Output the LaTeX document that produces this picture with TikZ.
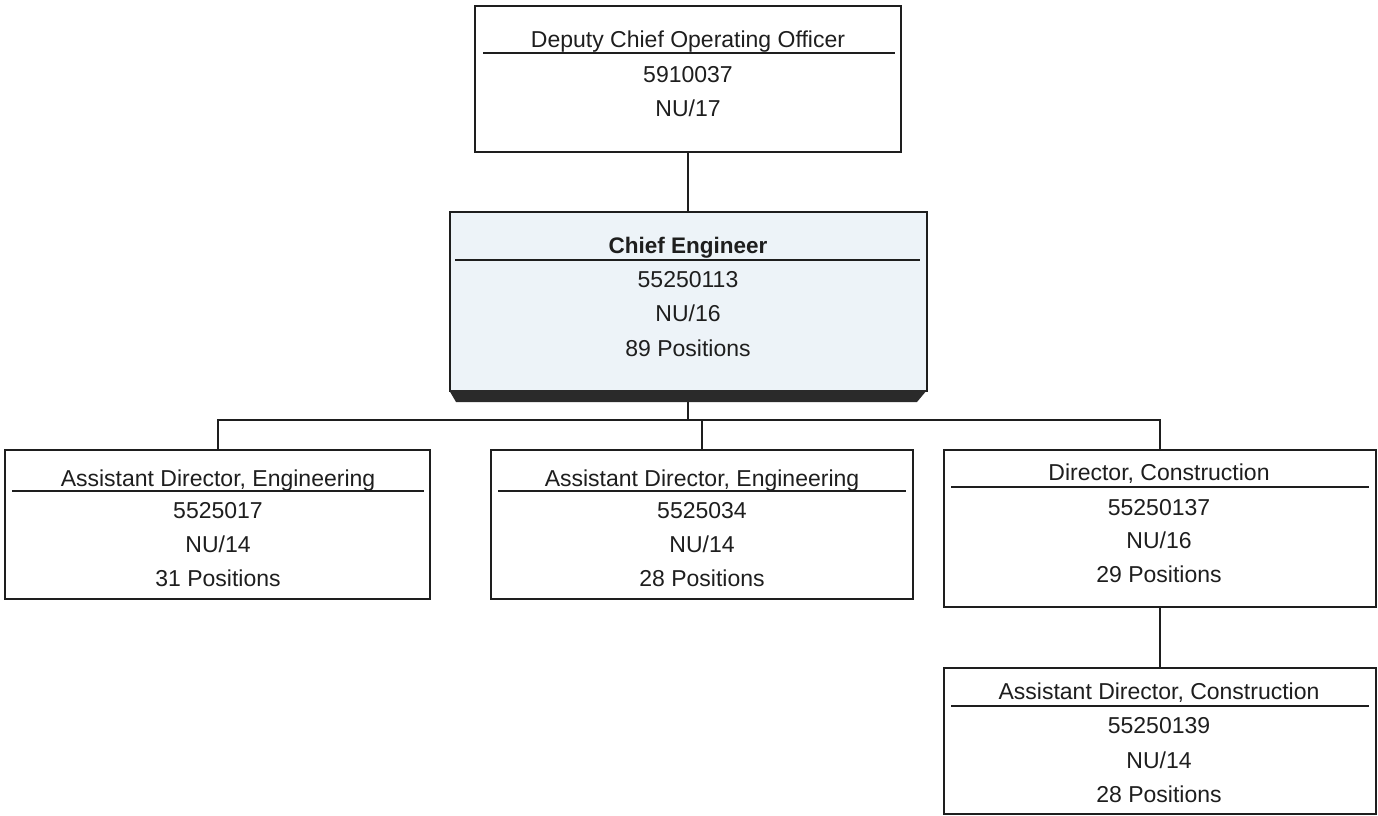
\documentclass[tikz,border=0pt]{standalone}
\usepackage{fontspec}
\setmainfont{Liberation Sans}
\usetikzlibrary{calc}
\definecolor{ink}{HTML}{1E1E1E}
\definecolor{cefill}{HTML}{EDF3F8}
\definecolor{basecol}{HTML}{2A2A2A}
\tikzset{
  box/.style={draw=ink, line width=2pt, fill=white, rectangle, inner sep=0pt},
  divider/.style={draw=ink, line width=2pt},
  link/.style={draw=ink, line width=2pt},
  label/.style={anchor=base, inner sep=0pt, text=ink, font=\fontsize{23}{27}\selectfont},
  boldlabel/.style={label, font=\fontsize{22.5}{27}\selectfont\bfseries},
}
\begin{document}
\begin{tikzpicture}[x=1pt, y=-1pt]
\useasboundingbox (0,0) rectangle (1378,816);

% position boxes
\node[box, minimum width=426pt, minimum height=146pt] (dcoo) at (688,79) {};
\node[box, fill=cefill, minimum width=477pt, minimum height=179pt] (ce) at (688,301.5) {};
\node[box, minimum width=425pt, minimum height=149pt] (ade1) at (217.5,524.5) {};
\node[box, minimum width=422pt, minimum height=149pt] (ade2) at (702,524.5) {};
\node[box, minimum width=432pt, minimum height=157pt] (dc) at (1160,528.5) {};
\node[box, minimum width=432pt, minimum height=146pt] (adc) at (1160,741) {};

% reporting lines
\coordinate (bus) at (688,420);
\draw[link] (dcoo.south) -- (ce.north);
\draw[link] (ce.south) -- (bus);
\draw[link] (bus) -| (ade1.north);
\draw[link] (bus) -| (ade2.north);
\draw[link] (bus) -| (dc.north);
\draw[link] (dc.south) -- (adc.north);

% raised base under the Chief Engineer box
\fill[basecol] (449,390) -- (927,390) -- (917,402) -- (456,402) -- cycle;

% title dividers
\draw[divider] (483,53) -- (895,53);
\draw[divider] (455,260) -- (920,260);
\draw[divider] (12,491) -- (424,491);
\draw[divider] (498,491) -- (906,491);
\draw[divider] (951,487) -- (1369,487);
\draw[divider] (951,706) -- (1369,706);

% Deputy Chief Operating Officer
\node[label] (dcoo-t) at (688,48) {Deputy Chief Operating Officer};
\node[label] (dcoo-n) at (688,82) {5910037};
\node[label] (dcoo-g) at (688,116) {NU/17};

% Chief Engineer
\node[boldlabel] (ce-t) at (688,253) {Chief Engineer};
\node[label] (ce-n) at (688,287) {55250113};
\node[label] (ce-g) at (688,321) {NU/16};
\node[label] (ce-p) at (688,356) {89 Positions};

% Assistant Director, Engineering (left)
\node[label] (ade1-t) at (218,486) {Assistant Director, Engineering};
\node[label] (ade1-n) at (218,518) {5525017};
\node[label] (ade1-g) at (218,552) {NU/14};
\node[label] (ade1-p) at (218,586) {31 Positions};

% Assistant Director, Engineering (middle)
\node[label] (ade2-t) at (702,486) {Assistant Director, Engineering};
\node[label] (ade2-n) at (702,518) {5525034};
\node[label] (ade2-g) at (702,552) {NU/14};
\node[label] (ade2-p) at (702,586) {28 Positions};

% Director, Construction
\node[label] (dc-t) at (1159,480) {Director, Construction};
\node[label] (dc-n) at (1159,515) {55250137};
\node[label] (dc-g) at (1159,548) {NU/16};
\node[label] (dc-p) at (1159,582) {29 Positions};

% Assistant Director, Construction
\node[label] (adc-t) at (1159,699) {Assistant Director, Construction};
\node[label] (adc-n) at (1159,733) {55250139};
\node[label] (adc-g) at (1159,768) {NU/14};
\node[label] (adc-p) at (1159,802) {28 Positions};
\end{tikzpicture}
\end{document}
